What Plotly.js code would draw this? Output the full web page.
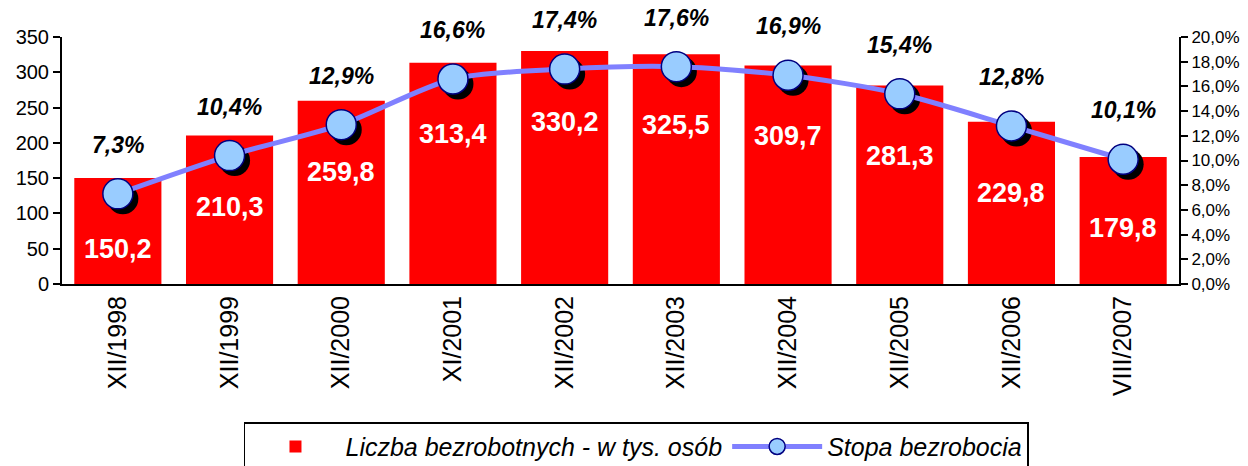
<!DOCTYPE html>
<html><head><meta charset="utf-8">
<script src="https://cdn.plot.ly/plotly-3.0.1.min.js"></script>
<style>html,body{margin:0;padding:0;background:#fff}#c{width:1248px;height:466px}</style>
</head><body><div id="c"></div>
<script>
const categories = ["XII/1998","XII/1999","XII/2000","XI/2001","XII/2002","XII/2003","XII/2004","XII/2005","XII/2006","VIII/2007"];
const unemployed = [150.2,210.3,259.8,313.4,330.2,325.5,309.7,281.3,229.8,179.8];
const rate = [7.3,10.4,12.9,16.6,17.4,17.6,16.9,15.4,12.8,10.1];
const seriesNames = ["Liczba bezrobotnych - w tys. osób","Stopa bezrobocia"];

const fmt = v => v.toFixed(1).replace('.', ',');
const F = 'Arial, "Liberation Sans", sans-serif';

const traces = [
  {type:'bar', x:categories, y:unemployed, name:seriesNames[0], marker:{color:'#FF0000'}, hoverinfo:'none'},
  {type:'scatter', mode:'markers', x:categories, y:rate, xaxis:'x2', yaxis:'y2', showlegend:false,
   marker:{size:31, color:'#000000'}, hoverinfo:'none'},
  {type:'scatter', mode:'lines+markers', x:categories, y:rate, xaxis:'x3', yaxis:'y3', name:seriesNames[1],
   line:{color:'#8080FF', width:5, shape:'spline', smoothing:0.8},
   marker:{size:30, color:'#99CCFF', line:{color:'#000080', width:1.5}}, hoverinfo:'none'}
];

const annotations = [];
categories.forEach((c,i)=>{
  annotations.push({x:c, y:unemployed[i], xref:'x', yref:'y', text:'<b>'+fmt(unemployed[i])+'</b>',
    showarrow:false, yanchor:'middle', yshift:-71, font:{family:F, size:27, color:'#FFFFFF'}});
  annotations.push({x:c, y:rate[i], xref:'x', yref:'y3', text:'<b><i>'+fmt(rate[i])+'%</i></b>',
    showarrow:false, yanchor:'middle', yshift:49, font:{family:F, size:23, color:'#000000'}});
});

const dx = 5/111.5, dy = 5/247*20;
const layout = {
  width:1248, height:466,
  margin:{l:62, r:69, t:37, b:182, autoexpand:false},
  paper_bgcolor:'#fff', plot_bgcolor:'#fff',
  separators:', ',
  font:{family:F, color:'#000'},
  bargap:0.22,
  showlegend:true,
  legend:{orientation:'h', xref:'container', yref:'container', x:0.51, xanchor:'center', y:0.094, yanchor:'top',
    bordercolor:'#000', borderwidth:1.5, font:{family:F, size:25, style:'italic'}, itemwidth:90, tracegroupgap:0},
  xaxis:{type:'category', range:[-0.5,9.5], showline:true, linecolor:'#000', linewidth:2, ticks:'',
    tickangle:-90, tickfont:{family:F, size:25}, showgrid:false, zeroline:false, automargin:false},
  yaxis:{range:[0,350], dtick:50, showline:true, linecolor:'#000', linewidth:2, ticks:'outside', ticklen:7,
    tickcolor:'#000', tickwidth:2, tickfont:{family:F, size:20}, showgrid:false, zeroline:false, automargin:false},
  xaxis2:{overlaying:'x', type:'category', range:[-0.5-dx, 9.5-dx], visible:false},
  yaxis2:{overlaying:'y', range:[dy, 20+dy], visible:false},
  xaxis3:{overlaying:'x', type:'category', range:[-0.5, 9.5], visible:false},
  yaxis3:{overlaying:'y', anchor:'x', side:'right', range:[0,20], dtick:2, ticksuffix:'%', tickformat:'.1f',
    showline:true, linecolor:'#000', linewidth:2, ticks:'outside', ticklen:7, tickcolor:'#000', tickwidth:2,
    tickfont:{family:F, size:17}, showgrid:false, zeroline:false, automargin:false},
  annotations:annotations
};
Plotly.newPlot('c', traces, layout, {displayModeBar:false, staticPlot:true});
</script></body></html>
